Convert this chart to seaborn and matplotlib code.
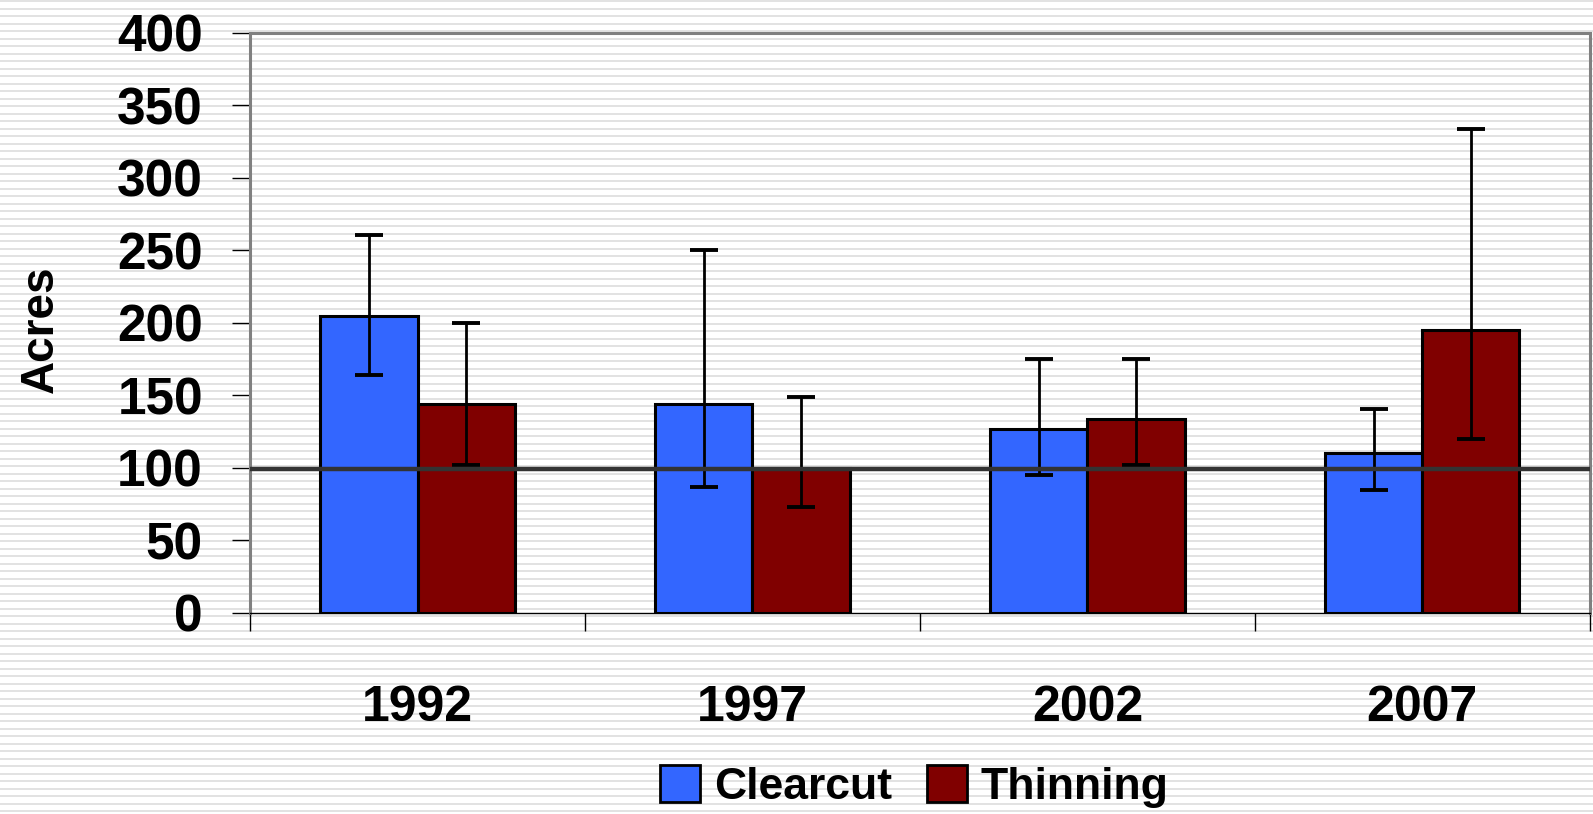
import numpy as np
import pandas as pd
import matplotlib
matplotlib.use('Agg')
import matplotlib.pyplot as plt
import seaborn as sns
from matplotlib.patches import Patch

years = ['1992', '1997', '2002', '2007']
methods = ['Clearcut', 'Thinning']
clearcut = [205, 144, 127, 110]
thinning = [144, 100, 134, 195]
clearcut_low = [164, 87, 95, 85]
clearcut_high = [261, 250, 175, 141]
thinning_low = [102, 73, 102, 120]
thinning_high = [200, 149, 175, 334]
ref_line = 99
yticks = [0, 50, 100, 150, 200, 250, 300, 350, 400]

colors = {'Clearcut': '#3366ff', 'Thinning': '#800000'}

df = pd.DataFrame({
    'year': years * 2,
    'method': ['Clearcut'] * 4 + ['Thinning'] * 4,
    'acres': clearcut + thinning,
})

sns.set_style('white')
plt.rcParams['font.family'] = ['Liberation Sans', 'DejaVu Sans']
plt.rcParams['text.color'] = 'black'
plt.rcParams['xtick.color'] = 'black'
plt.rcParams['ytick.color'] = 'black'
plt.rcParams['axes.labelcolor'] = 'black'

fig = plt.figure(figsize=(15.93, 8.14), dpi=100)

# striped background over the whole figure
rows = np.arange(814)
stripe = np.where((rows % 7.5) < 2, 0.89, 1.0)
bg = np.repeat(stripe[:, None], 1593, axis=1)
fig.figimage(np.dstack([bg, bg, bg]), xo=0, yo=0, origin='upper', zorder=-10)
fig.patch.set_alpha(0)

ax = fig.add_axes([0.157, 0.247, 0.841, 0.7125])
ax.patch.set_alpha(0)

sns.barplot(data=df, x='year', y='acres', hue='method', order=years, hue_order=methods,
            palette=colors, width=0.58, edgecolor='black', linewidth=2.2, saturation=1,
            errorbar=None, ax=ax, legend=False, zorder=2)

lows = [clearcut_low, thinning_low]
highs = [clearcut_high, thinning_high]
for cont, lo, hi in zip(ax.containers, lows, highs):
    xs = [b.get_x() + b.get_width() / 2 for b in cont]
    hs = [b.get_height() for b in cont]
    err = [np.array(hs) - np.array(lo), np.array(hi) - np.array(hs)]
    ax.errorbar(xs, hs, yerr=err, fmt='none', ecolor='black', elinewidth=2,
                capsize=10, capthick=2.8, zorder=4)

ax.axhline(ref_line, color='#333333', lw=3.2, zorder=5)

ax.set_ylim(0, 400)
ax.set_xlim(-0.5, len(years) - 0.5)
ax.set_yticks(yticks)
ax.set_yticklabels([str(v) for v in yticks], fontsize=37, fontweight='bold')
ax.tick_params(axis='y', direction='out', length=13, width=1, color='black', pad=21, left=True)
ax.set_xticks(range(len(years)))
ax.set_xticklabels(years, fontsize=36, fontweight='bold')
ax.tick_params(axis='x', which='major', length=0, pad=52)
ax.set_xticks(np.arange(-0.5, len(years)), minor=True)
ax.tick_params(axis='x', which='minor', direction='out', length=13, width=1, color='black', bottom=True)

ax.set_xlabel('')
ax.set_ylabel('Acres', fontsize=33, fontweight='bold')
ax.yaxis.set_label_coords(-0.14, 0.49)

for side in ['left', 'top', 'right']:
    ax.spines[side].set_color('#808080')
    ax.spines[side].set_linewidth(2.2)
ax.spines['bottom'].set_color('black')
ax.spines['bottom'].set_linewidth(1)

handles = [Patch(facecolor=colors[m], edgecolor='black', linewidth=2) for m in methods]
fig.legend(handles, methods, loc='center', bbox_to_anchor=(0.574, 0.034), ncol=2,
           frameon=False, prop={'weight': 'bold', 'size': 32},
           handlelength=0.9, handleheight=0.9, handletextpad=0.3, columnspacing=0.8)

fig.savefig('out.png', dpi=100)
